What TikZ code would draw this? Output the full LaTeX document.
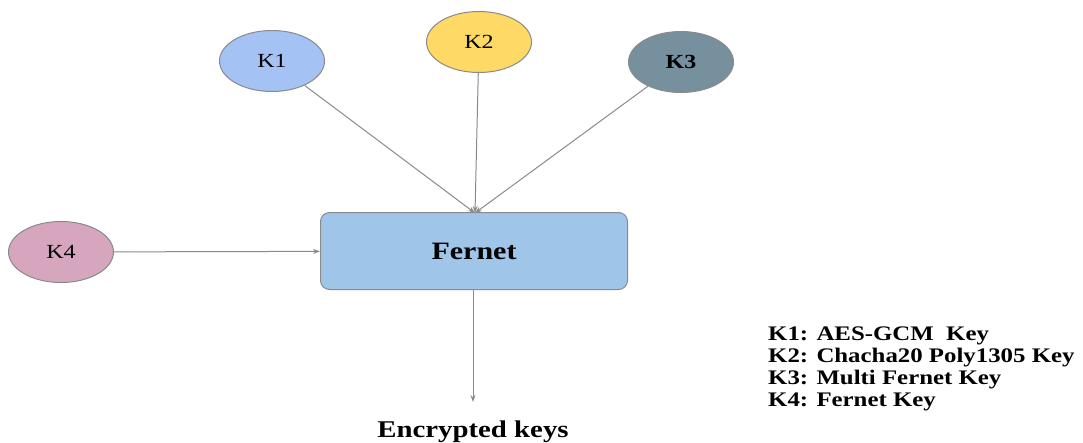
\documentclass[tikz,border=0pt]{standalone}
\usepackage{fontspec}
\setmainfont{Liberation Serif}[FakeStretch=1.2]
\usetikzlibrary{shapes.geometric,arrows.meta}
\definecolor{kone}{HTML}{A4C2F4}
\definecolor{ktwo}{HTML}{FFD966}
\definecolor{kthree}{HTML}{76909E}
\definecolor{kfour}{HTML}{D5A6BD}
\definecolor{fbox}{HTML}{9FC5E8}
\definecolor{edge}{HTML}{8A8A8A}
\tikzset{
  keynode/.style={ellipse, draw=edge, line width=1pt, minimum width=105pt, minimum height=61pt, inner sep=0pt, font=\fontsize{20}{24}\selectfont},
  mainbox/.style={rectangle, rounded corners=9pt, draw=edge, line width=1pt, fill=fbox, minimum width=307pt, minimum height=77pt, font=\bfseries\fontsize{25}{28}\selectfont},
  conn/.style={draw=edge, line width=1pt, -{Stealth[length=7pt,width=5pt]}},
  legendtext/.style={align=left, anchor=north west, inner sep=0pt, font=\bfseries\fontsize{20.7}{21.8}\selectfont}
}
\begin{document}
\begin{tikzpicture}[x=1pt,y=-1pt]
\useasboundingbox (0,0) rectangle (1083,442);
\node[keynode, fill=kone] (k1) at (272,61) {K1};
\node[keynode, fill=ktwo] (k2) at (479,42) {K2};
\node[keynode, fill=kthree] (k3) at (681,62) {\textbf{K3}};
\node[keynode, fill=kfour] (k4) at (61,252) {K4};
\node[mainbox] (f) at (474,251) {Fernet};
\coordinate (top) at (475,213);
\coordinate (end) at (473,402);
\draw[conn] (k1) -- (top);
\draw[conn] (k2) -- (top);
\draw[conn] (k3) -- (top);
\draw[conn] (k4) -- (f);
\draw[conn] (f.south -| end) -- (end);
\node[font=\bfseries\fontsize{24}{28}\selectfont, anchor=base] (enc) at (473,437) {Encrypted keys};
\node[legendtext] (leg) at (768,327) {K1: AES-GCM~ Key\\K2: Chacha20 Poly1305 Key\\K3: Multi Fernet Key\\K4: Fernet Key};
\end{tikzpicture}
\end{document}
